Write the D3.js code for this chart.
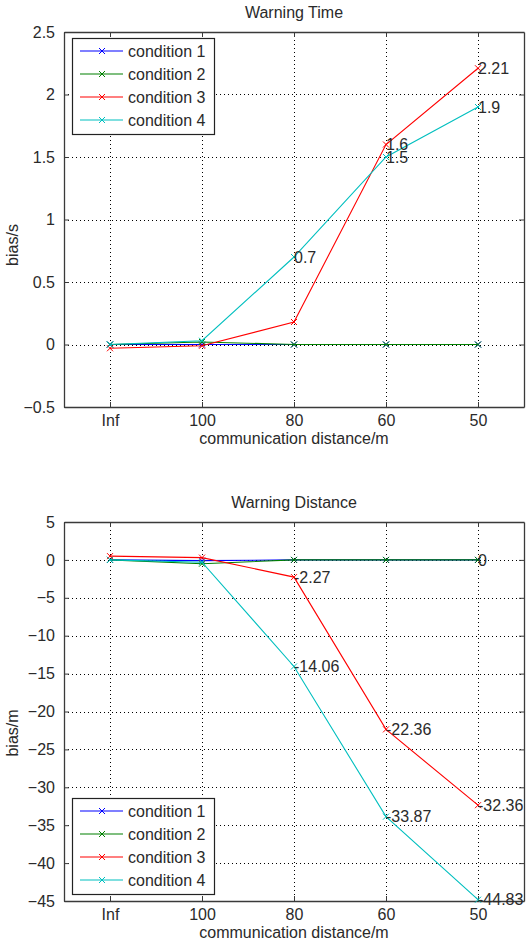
<!DOCTYPE html>
<html>
<head>
<meta charset="utf-8">
<script src="https://cdn.jsdelivr.net/npm/d3@7"></script>
<style>
  html, body { margin: 0; padding: 0; background: #fff; }
  svg { display: block; font-family: "Liberation Sans", Arial, sans-serif; }
</style>
</head>
<body>
<svg id="chart" width="528" height="946"></svg>
<script>
// ---- data ----
const categories = ["Inf", "100", "80", "60", "50"];
const seriesNames = ["condition 1", "condition 2", "condition 3", "condition 4"];
const seriesColors = ["#0000ff", "#008000", "#ff0000", "#00bfbf"];

const timeCond1 = [0, 0, 0, 0, 0];
const timeCond2 = [0, 0.02, 0, 0, 0];
const timeCond3 = [-0.03, -0.01, 0.18, 1.6, 2.21];
const timeCond4 = [0, 0.03, 0.7, 1.5, 1.9];
const timeTicks = [2.5, 2, 1.5, 1, 0.5, 0, -0.5];
// [series index, category index] pairs that get a value label
const timeLabeled = [[3, 2], [2, 3], [3, 3], [2, 4], [3, 4]];

const distCond1 = [0, -0.1, 0, 0, 0];
const distCond2 = [0, -0.5, 0, 0, 0];
const distCond3 = [0.5, 0.3, -2.27, -22.36, -32.36];
const distCond4 = [0, -0.3, -14.06, -33.87, -44.83];
const distTicks = [5, 0, -5, -10, -15, -20, -25, -30, -35, -40, -45];
const distLabeled = [[1, 4], [2, 2], [3, 2], [2, 3], [3, 3], [2, 4], [3, 4]];

const svg = d3.select("#chart");
const textColor = "#2a2a2a";

function drawChart(opts) {
  const { series, ticks, yDomain, top, bottom, title, ylabel, labeled, legendTop, ylabelY } = opts;
  const left = 64, right = 524;
  const g = svg.append("g");

  const x = d3.scaleLinear().domain([0.5, 5.5]).range([left, right]);
  const y = d3.scaleLinear().domain(yDomain).range([bottom, top]);

  // grid
  const grid = g.append("g").attr("stroke", "#000").attr("stroke-width", 1)
    .attr("stroke-dasharray", "1,3");
  categories.forEach((c, i) => {
    grid.append("line").attr("x1", Math.round(x(i + 1)) + 0.5).attr("x2", Math.round(x(i + 1)) + 0.5)
      .attr("y1", top).attr("y2", bottom);
  });
  ticks.forEach(t => {
    if (t === yDomain[0] || t === yDomain[1]) return;
    grid.append("line").attr("y1", Math.round(y(t)) + 0.5).attr("y2", Math.round(y(t)) + 0.5)
      .attr("x1", left).attr("x2", right);
  });

  // axes (box with inward ticks)
  const xAxisB = d3.axisBottom(x).tickValues([1, 2, 3, 4, 5])
    .tickFormat((d, i) => categories[i]).tickSizeInner(-5).tickSizeOuter(0).tickPadding(8);
  const xAxisT = d3.axisTop(x).tickValues([1, 2, 3, 4, 5])
    .tickFormat("").tickSizeInner(-5).tickSizeOuter(0);
  const yAxisL = d3.axisLeft(y).tickValues(ticks).tickFormat(d3.format("")).tickSizeInner(-5).tickSizeOuter(0).tickPadding(9);
  const yAxisR = d3.axisRight(y).tickValues(ticks).tickFormat("").tickSizeInner(-5).tickSizeOuter(0);

  [ [xAxisB, `translate(0,${bottom})`], [xAxisT, `translate(0,${top})`],
    [yAxisL, `translate(${left},0)`], [yAxisR, `translate(${right},0)`] ].forEach(([ax, tr]) => {
    const a = g.append("g").attr("transform", tr).call(ax);
    a.selectAll("path.domain").attr("stroke", "#3a3a3a").attr("stroke-width", 1.3);
    a.selectAll(".tick line").attr("stroke", "#3a3a3a");
    a.selectAll("text").attr("font-size", 16).attr("fill", textColor)
      .attr("font-family", "Liberation Sans, Arial, sans-serif");
  });

  // lines
  const line = d3.line().x((d, i) => x(i + 1)).y(d => y(d));
  const marks = g.append("g");
  series.forEach((s, k) => {
    marks.append("path").datum(s).attr("d", line).attr("fill", "none")
      .attr("stroke", seriesColors[k]).attr("stroke-width", 1.1);
    s.forEach((v, i) => {
      const cx = x(i + 1), cy = y(v), r = 3;
      marks.append("path").attr("d", `M${cx - r},${cy - r}L${cx + r},${cy + r}M${cx - r},${cy + r}L${cx + r},${cy - r}`)
        .attr("stroke", seriesColors[k]).attr("stroke-width", 1);
    });
  });

  // value labels
  labeled.forEach(([k, i]) => {
    const v = series[k][i];
    g.append("text").attr("x", x(i + 1)).attr("y", y(v)).attr("dy", "0.35em")
      .attr("font-size", 16).attr("fill", textColor).text(String(v));
  });

  // title & labels
  g.append("text").attr("x", (left + right) / 2).attr("y", top - 14).attr("text-anchor", "middle")
    .attr("font-size", 16).attr("fill", textColor).text(title);
  g.append("text").attr("x", (left + right) / 2).attr("y", bottom + 37).attr("text-anchor", "middle")
    .attr("font-size", 16).attr("fill", textColor).text("communication distance/m");
  g.append("text").attr("transform", `translate(18,${ylabelY}) rotate(-90)`).attr("text-anchor", "middle")
    .attr("font-size", 16).attr("fill", textColor).text(ylabel);

  // legend
  const lg = g.append("g").attr("transform", `translate(72,${legendTop})`);
  lg.append("rect").attr("x", 0.5).attr("y", 0.5).attr("width", 142).attr("height", 96)
    .attr("fill", "#fff").attr("stroke", "#222").attr("stroke-width", 1.2);
  seriesNames.forEach((n, k) => {
    const yy = 13 + k * 23;
    lg.append("line").attr("x1", 8).attr("x2", 51).attr("y1", yy).attr("y2", yy)
      .attr("stroke", seriesColors[k]).attr("stroke-width", 1.1);
    const cx = 30, r = 3;
    lg.append("path").attr("d", `M${cx - r},${yy - r}L${cx + r},${yy + r}M${cx - r},${yy + r}L${cx + r},${yy - r}`)
      .attr("stroke", seriesColors[k]).attr("stroke-width", 1);
    lg.append("text").attr("x", 56).attr("y", yy).attr("dy", "0.35em").attr("font-size", 16)
      .attr("fill", textColor).text(n);
  });
}

drawChart({
  series: [timeCond1, timeCond2, timeCond3, timeCond4],
  ticks: timeTicks, yDomain: [-0.5, 2.5], top: 32, bottom: 407,
  title: "Warning Time", ylabel: "bias/s", labeled: timeLabeled, legendTop: 38, ylabelY: 245
});
drawChart({
  series: [distCond1, distCond2, distCond3, distCond4],
  ticks: distTicks, yDomain: [-45, 5], top: 522, bottom: 901,
  title: "Warning Distance", ylabel: "bias/m", labeled: distLabeled, legendTop: 798, ylabelY: 733
});
</script>
</body>
</html>
